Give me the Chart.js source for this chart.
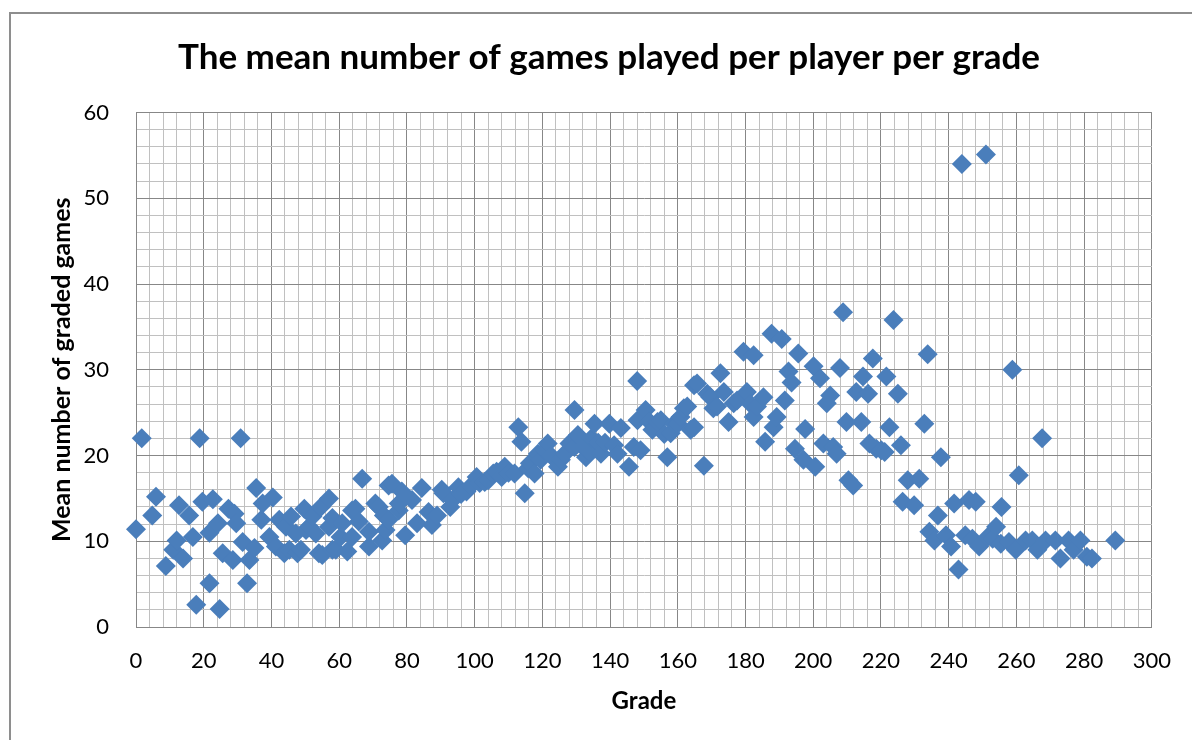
<!DOCTYPE html>
<html>
<head>
<meta charset="utf-8">
<title>Mean number of games played per player per grade</title>
<script src="https://cdn.jsdelivr.net/npm/chart.js@4.4.1/dist/chart.umd.min.js"></script>
<style>
    html, body { margin: 0; padding: 0; background: #ffffff; }
    #frame {
        position: absolute;
        left: 9px;
        top: 12px;
        width: 1200px;
        height: 800px;
        border: 2px solid #8e8e8e;
    }
    #chart-canvas { position: absolute; left: 0; top: 0; }
</style>
</head>
<body>
<div id="frame"></div>
<canvas id="chart-canvas" width="1192" height="740"></canvas>
<script>
// Values (grade, mean number of graded games)
const grades = [
    0, 1.7, 4.8, 5.9, 8.8, 11, 12, 12.7, 13.9, 15.7, 16.8, 17.8, 18.8, 19.6, 21.7, 21.7,
    22.7, 24.2, 24.7, 25.6, 27.3, 28.6, 29.1, 29.6, 30.9, 31.5, 32.8, 33.5, 35, 35.5, 37, 37.4,
    39.4, 40.4, 41.3, 42.3, 43.8, 44.3, 45.3, 45.8, 47.2, 47.7, 48.7, 49.7, 50.2, 51.1, 52.1, 53.1,
    54, 54.6, 55, 57, 57, 58, 58, 59, 60.4, 60.9, 62.4, 63.8, 63.8, 64.8, 65.8, 66.8,
    68.8, 68.8, 70.7, 71.7, 72.7, 73.2, 73.7, 74.6, 74.6, 75.6, 77.6, 77.6, 78.5, 79.5, 81.5, 83,
    84.4, 86.4, 87.4, 88.9, 90.3, 90.8, 92.8, 93.5, 95.2, 96, 97.6, 99, 100.6, 101.5, 103, 104,
    105.5, 106.5, 108, 108.9, 110, 111.8, 112.9, 113.8, 114.8, 115.8, 116.3, 117.7, 118.7, 119.5, 120.7, 121.6,
    122.5, 124.6, 125.5, 126.6, 128, 129.5, 129.5, 130.5, 132, 132.9, 133.4, 134.5, 135.4, 136.5, 137.3, 138.5,
    139.8, 141.2, 142.2, 143.2, 145.6, 147, 148, 148.1, 149, 150.5, 151.5, 152.5, 154, 155, 156, 156.9,
    157.9, 158.9, 160, 160.8, 161.8, 162.8, 163.8, 164.8, 164.8, 165.7, 167.7, 168.7, 169.6, 170.5, 171.6, 172.6,
    173.6, 175, 176.5, 177.5, 179.4, 180.4, 181.5, 182.4, 182.4, 183.4, 185.3, 185.8, 187.7, 188.3, 189.2, 190.7,
    191.6, 192.7, 193.6, 194.6, 195.6, 197.1, 197.6, 200.1, 200.6, 202, 203, 204, 205, 205.9, 206.9, 207.9,
    208.8, 209.8, 210.4, 211.8, 212.7, 214.2, 214.7, 216.2, 216.6, 217.6, 218.6, 220.1, 221.1, 221.6, 222.5, 223.7,
    225, 225.9, 226.4, 227.9, 229.8, 231.3, 232.8, 233.8, 234.3, 235.8, 236.8, 237.7, 239.2, 240.7, 241.6, 242.9,
    243.9, 244.9, 246, 247, 248, 249, 251, 251.5, 253, 254, 255.4, 255.6, 257.8, 258.8, 259.8, 260.7,
    262.7, 264.7, 266.2, 267.6, 268.6, 271.5, 273, 275.4, 276.9, 278.9, 280.8, 282.3, 289.2
];

const meanGames = [
    11.4, 22, 13, 15.2, 7.1, 9, 10.1, 14.2, 8, 13, 10.5, 2.6, 22, 14.6, 11, 5.1,
    14.9, 12.1, 2.1, 8.6, 13.8, 7.8, 13.2, 12.1, 22, 9.9, 5.1, 7.8, 9.2, 16.2, 12.5, 14.4,
    10.5, 15.1, 9.4, 12.5, 8.6, 11.7, 9, 12.9, 10.9, 8.6, 9, 13.8, 11.3, 11.7, 12.9, 10.9,
    8.6, 14, 8.4, 15, 11.7, 12.7, 9, 9, 10.5, 12.1, 8.8, 13.6, 10.5, 13.8, 12.3, 17.3,
    9.4, 11.1, 14.4, 14, 10.1, 13, 11.3, 16.5, 12.5, 16.7, 13.6, 14.4, 15.8, 10.7, 14.8, 12.1,
    16.2, 13.4, 11.9, 13, 16, 15.6, 14, 14.8, 16.3, 15.5, 15.8, 16.5, 17.5, 16.8, 16.9, 17.1,
    17.9, 18.1, 17.5, 18.7, 18, 17.9, 23.3, 21.6, 15.6, 18.5, 19.1, 17.9, 20.2, 19.5, 20.6, 21.4,
    20, 18.7, 19.5, 20.2, 21.4, 21, 25.3, 22.4, 21, 19.8, 20.6, 22, 23.7, 21.5, 20.2, 21.5,
    23.7, 21.2, 20.2, 23.2, 18.7, 21, 28.7, 24.1, 20.6, 25.3, 24, 23, 23.9, 24.1, 22.5, 19.8,
    22.6, 23.7, 23.7, 24.5, 25.5, 25.7, 23, 23.3, 28.2, 28.4, 18.8, 27.2, 26.8, 25.5, 25.7, 29.6,
    27.4, 23.9, 26.1, 26.4, 32.1, 27.4, 26, 31.7, 24.5, 25.7, 26.8, 21.6, 34.2, 23.3, 24.5, 33.6,
    26.4, 29.8, 28.5, 20.8, 31.9, 19.5, 23.1, 30.4, 18.7, 29, 21.4, 26.1, 27, 21, 20.2, 30.2,
    36.7, 23.9, 17.1, 16.5, 27.4, 23.9, 29.2, 27.2, 21.4, 31.3, 20.8, 20.6, 20.4, 29.2, 23.3, 35.8,
    27.2, 21.2, 14.6, 17.1, 14.2, 17.3, 23.7, 31.8, 11.1, 10.1, 13, 19.8, 10.7, 9.4, 14.4, 6.7,
    54, 10.7, 14.8, 10.3, 14.6, 9.4, 55.1, 10.5, 10.3, 11.7, 9.7, 14, 9.9, 30, 9, 17.7,
    10.1, 10.1, 9, 22, 10.1, 10.1, 8, 10.1, 9, 10.1, 8.2, 8, 10.1
];

// Axis settings
const xMin = 0, xMax = 300, xMinorStep = 4, xMajorStep = 20;
const yMin = 0, yMax = 60, yMinorStep = 2, yMajorStep = 10;

const chartTitle = 'The mean number of games played per player per grade';
const xTitle = 'Grade';
const yTitle = 'Mean number of graded games';

const markerColor = '#4A7EBB';
const majorGridColor = '#878787';
const minorGridColor = '#c0c0c0';
const fontFamily = 'Lato, "Open Sans", sans-serif';

const points = grades.map((g, i) => ({ x: g, y: meanGames[i] }));

function isMajor(value, step) {
    return Math.abs(value % step) < 1e-6;
}

const ctx = document.getElementById('chart-canvas').getContext('2d');

new Chart(ctx, {
    type: 'scatter',
    data: {
        datasets: [{
            label: 'Mean games',
            data: points,
            pointStyle: 'rectRot',
            pointRadius: 10,
            pointHoverRadius: 10,
            backgroundColor: markerColor,
            borderColor: markerColor,
            borderWidth: 0,
            clip: false
        }]
    },
    options: {
        responsive: false,
        animation: false,
        devicePixelRatio: 1,
        // left padding shifts the centred title to the right, like the original
        layout: {
            padding: { left: 61, right: 35, top: 0, bottom: 0 }
        },
        plugins: {
            legend: { display: false },
            tooltip: { enabled: false },
            title: {
                display: true,
                text: chartTitle,
                color: '#000000',
                font: { family: fontFamily, size: 35, weight: 'bold' },
                padding: { top: 37, bottom: 33.5 }
            }
        },
        scales: {
            x: {
                type: 'linear',
                min: xMin,
                max: xMax,
                border: { color: majorGridColor, width: 1 },
                grid: {
                    drawTicks: false,
                    lineWidth: 1,
                    color: (c) => isMajor(c.tick.value, xMajorStep) ? majorGridColor : minorGridColor
                },
                ticks: {
                    stepSize: xMinorStep,
                    autoSkip: false,
                    maxRotation: 0,
                    padding: 21,
                    color: '#000000',
                    font: { family: fontFamily, size: 22 },
                    callback: (v) => isMajor(v, xMajorStep) ? String(v) : ''
                },
                title: {
                    display: true,
                    text: xTitle,
                    color: '#000000',
                    font: { family: fontFamily, size: 24, weight: 'bold' },
                    padding: { top: 0, bottom: 24.6 }
                },
                afterFit: (scale) => { scale.height = 113; }
            },
            y: {
                type: 'linear',
                min: yMin,
                max: yMax,
                border: { color: majorGridColor, width: 1 },
                grid: {
                    drawTicks: false,
                    lineWidth: 1,
                    color: (c) => isMajor(c.tick.value, yMajorStep) ? majorGridColor : minorGridColor
                },
                ticks: {
                    stepSize: yMinorStep,
                    autoSkip: false,
                    padding: 27,
                    color: '#000000',
                    font: { family: fontFamily, size: 22 },
                    callback: (v) => isMajor(v, yMajorStep) ? String(v) : ''
                },
                title: {
                    display: true,
                    text: yTitle,
                    color: '#000000',
                    font: { family: fontFamily, size: 25, weight: 'bold' },
                    padding: { top: -14, bottom: 0 }
                },
                afterFit: (scale) => { scale.width = 75; }
            }
        }
    }
});
</script>
</body>
</html>
